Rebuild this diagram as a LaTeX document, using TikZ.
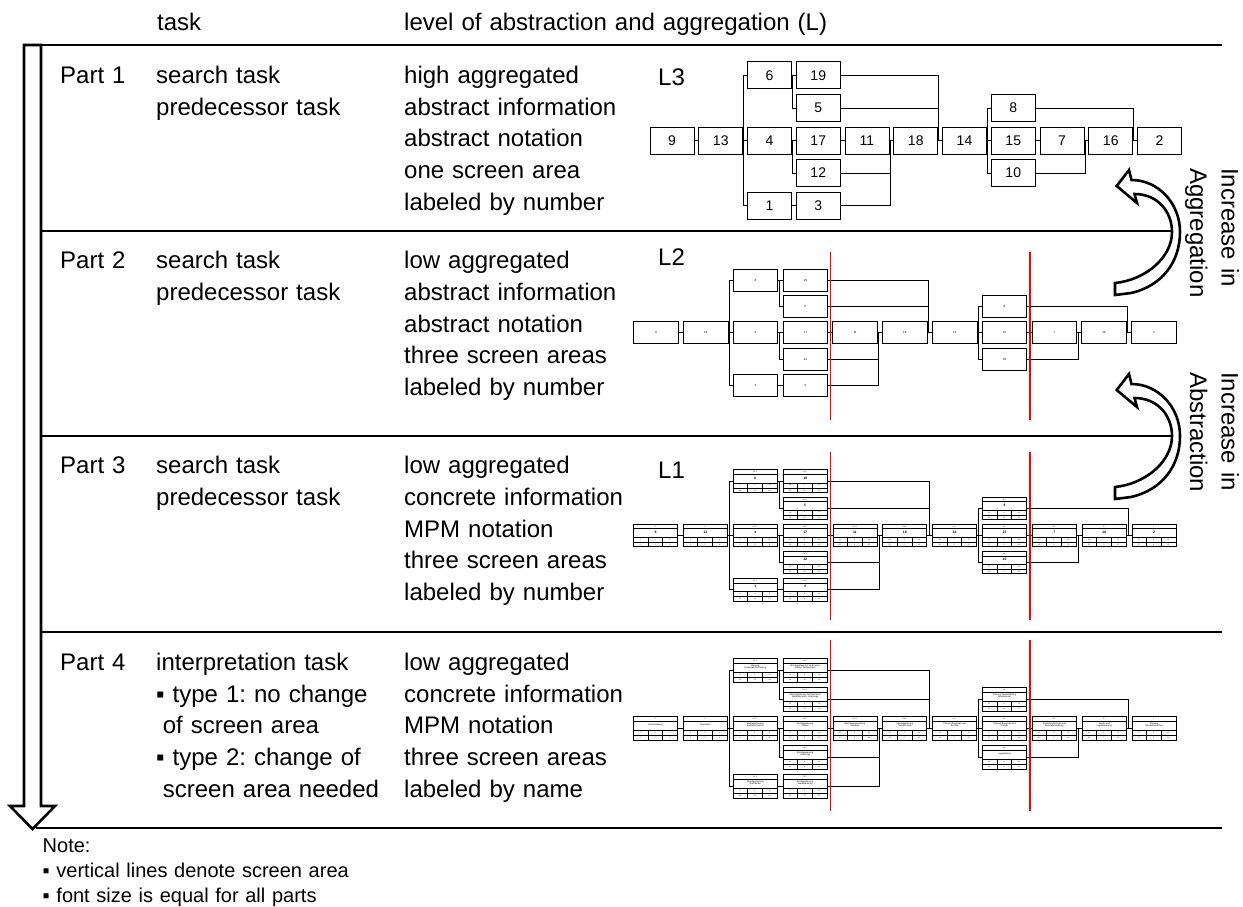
\documentclass[tikz,border=0pt]{standalone}
\usepackage{fontspec}
\setmainfont{Liberation Sans}
\usetikzlibrary{calc}
\frenchspacing

% task / column / row (row 2 is the main row)
\newcommand{\tasklist}{9/0/2, 13/1/2, 4/2/2, 6/2/0, 1/2/4, 17/3/2, 19/3/0, 5/3/1, 12/3/3, 3/3/4, 11/4/2, 18/5/2, 14/6/2, 15/7/2, 8/7/1, 10/7/3, 7/8/2, 16/9/2, 2/10/2}
\newcommand{\linklist}{9/13, 13/6, 13/4, 13/1, 6/19, 6/5, 4/17, 4/12, 1/3, 17/11, 11/18, 12/18, 3/18, 18/14, 19/14, 5/14, 14/8, 14/15, 14/10, 15/7, 7/16, 10/16, 16/2, 8/2}
\newcommand{\celldata}{9/1/0/3/3/0/0/3, 13/2/3/3/6/3/0/6, 4/3.3.1/6/5/11/6/0/11, 6/3.1.1/6/4/10/20/14/24, 1/3.2.1/6/3/9/18/12/21, 17/3.3.2/11/8/19/11/0/19, 19/3.1.2/10/6/16/24/14/30, 5/3.1.3/10/5/15/25/15/30, 12/3.3.3/11/4/15/21/10/25, 3/3.2.2/9/4/13/21/12/25, 11/3.3.4/19/6/25/19/0/25, 18/3.3.5/25/5/30/25/0/30, 14/4.1/30/7/37/30/0/37, 15/4.2/37/6/43/37/0/43, 8/4.3/37/4/41/53/16/57, 10/4.4/37/5/42/46/9/51, 7/5.1/43/8/51/43/0/51, 16/6/51/6/57/51/0/57, 2/7/57/4/61/57/0/61}
\newcommand{\namedata}{9/{Ausschreibung}, 13/{Baustraße}, 4/{Montageplanung\\Stahlkonstruktion}, 6/{Planung\\Fundamentherstellung}, 1/{Montageplanung\\Dachbinder}, 17/{Montageplanung\\Stützen}, 19/{Montageplanung Fundamente\\Aufzug, Treppenhaus}, 5/{Montageplanung Dachelemente\\Wandelemente, Unterzüge}, 12/{Montageplanung\\Unterzüge}, 3/{Montageplanung\\Wandelemente}, 11/{Montagevorbereitung\\Stahlbau}, 18/{Montageplanung\\Dachelemente}, 14/{Planung Baugrube und\\Aushub}, 15/{Planung Baugrube und\\Verbau}, 8/{Planung Wasserhaltung\\Grundwasser}, 10/{Lageplanung}, 7/{Sicherheitskonzept und\\Baustellenordnung}, 16/{Geräte und\\Logistikplanung}, 2/{Planung\\Baustellenbetrieb}}

% prefix, x of column 0, column pitch, y of main row, row pitch, box style, box text
\newcommand{\network}[7]{%
  \foreach \t/\col/\row in \tasklist
    \node[#6] (#1\t) at ({#2+\col*#3},{#4+(\row-2)*#5}) {#7};
  \foreach \a/\b in \linklist
    \draw[link] (#1\a.east) -| ([xshift=-3.3pt]#1\b.west) -- (#1\b.west);
}

% prefix, box width, box height
\newcommand{\mpmgrid}[3]{%
  \foreach \t/\hd/\es/\du/\ef/\ls/\tf/\lf in \celldata {
    \begin{scope}[shift={(#1\t.south west)}, x={(#2pt,0pt)}, y={(0pt,#3pt)}]
      \draw[celllines] (0,0.82) -- (1,0.82) (0,0.45) -- (1,0.45) (0,0.23) -- (1,0.23)
        (1/3,0) -- (1/3,0.45) (2/3,0) -- (2/3,0.45);
      \node[cell] (#1\t-hd) at (0.5,0.91) {\hd};
      \node[cell] (#1\t-es) at (1/6,0.34) {\es};
      \node[cell] (#1\t-du) at (0.5,0.34) {\du};
      \node[cell] (#1\t-ef) at (5/6,0.34) {\ef};
      \node[cell] (#1\t-ls) at (1/6,0.115) {\ls};
      \node[cell] (#1\t-tf) at (0.5,0.115) {\tf};
      \node[cell] (#1\t-lf) at (5/6,0.115) {\lf};
    \end{scope}
  }
}

\begin{document}
\begin{tikzpicture}[x=1pt, y=-1pt,
  txt/.style={anchor=base west, inner sep=0pt, text width=#1, align=left, font=\fontsize{24}{31.7}\selectfont},
  txt/.default=240pt,
  rule/.style={line width=1.1pt},
  screen/.style={red, line width=1.8pt},
  link/.style={line width=0.8pt},
  bigbox/.style={rectangle, draw, line width=1pt, minimum width=44pt, minimum height=27pt, inner sep=0pt, font=\fontsize{14}{14}\selectfont},
  smallbox/.style={rectangle, draw, line width=0.9pt, minimum width=44.6pt, minimum height=22pt, inner sep=0pt, font=\fontsize{3}{3}\selectfont},
  mpmbox/.style={rectangle, draw, line width=0.9pt, minimum width=44pt, inner sep=0pt},
  celllines/.style={line width=0.35pt},
  cell/.style={inner sep=0pt, font=\fontsize{1.8}{2}\selectfont},
  tasktitle/.style={inner sep=0pt, align=center, font=\fontsize{2.2}{2.5}\selectfont},
  hollow/.style={draw, fill=white, line width=2.6pt},
]
\useasboundingbox (0,0) rectangle (1243,907);

\draw[rule] (41,45) -- (1222,45);
\draw[rule] (41,231) -- (1179,231);
\draw[rule] (41,436) -- (1179,436);
\draw[rule] (41,632) -- (1222,632);
\draw[rule] (36,828) -- (1222,828);

\draw[hollow] (24,45) -- (24,806) -- (10,806) -- (32.5,829) -- (55,806) -- (41,806) -- (41,45) -- cycle;

\node[txt] (hd-task) at (157,30.5) {task};
\node[txt=440pt] (hd-level) at (404,30.5) {level of abstraction and aggregation (L)};

\node[txt] (part1) at (60,83.6) {Part 1};
\node[txt] (task1) at (156,83.6) {search task\\predecessor task};
\node[txt] (lev1) at (404,83.6) {high aggregated\\abstract information\\abstract notation\\one screen area\\labeled by number};

\node[txt] (part2) at (60,268.6) {Part 2};
\node[txt] (task2) at (156,268.6) {search task\\predecessor task};
\node[txt] (lev2) at (404,268.6) {low aggregated\\abstract information\\abstract notation\\three screen areas\\labeled by number};

\node[txt] (part3) at (60,473.6) {Part 3};
\node[txt] (task3) at (156,473.6) {search task\\predecessor task};
\node[txt] (lev3) at (404,473.6) {low aggregated\\concrete information\\MPM notation\\three screen areas\\labeled by number};

\node[txt] (part4) at (60,670.4) {Part 4};
\node[txt] (task4) at (156,670.4) {interpretation task\\▪ type 1: no change\\\hspace*{6.7pt}of screen area\\▪ type 2: change of\\\hspace*{6.7pt}screen area needed};
\node[txt] (lev4) at (404,670.4) {low aggregated\\concrete information\\MPM notation\\three screen areas\\labeled by name};

\node[txt] (L3) at (658,85) {L3};
\node[txt] (L2) at (658,265) {L2};
\node[txt] (L1) at (658,478) {L1};

\network{a}{672}{48.75}{140.5}{32.5}{bigbox}{\t}
\network{b}{655.9}{49.8}{332.7}{26.3}{smallbox}{\t}
\network{c}{655.6}{49.85}{535.4}{27.1}{mpmbox, minimum height=22.7pt}{}
\network{d}{655.6}{49.85}{728.3}{29}{mpmbox, minimum height=24pt}{}

\mpmgrid{c}{44}{22.7}
\mpmgrid{d}{44}{24}
\foreach \t/\col/\row in \tasklist
  \node[tasktitle, font=\fontsize{3.4}{3.4}\selectfont\bfseries] (c\t-tl) at ($(c\t.north)!0.365!(c\t.south)$) {\t};
\foreach \t/\nm in \namedata
  \node[tasktitle] (d\t-tl) at ($(d\t.north)!0.365!(d\t.south)$) {\nm};

\draw[screen] (830.4,252) -- (830.4,420) (1030,252) -- (1030,420);
\draw[screen] (830.4,452) -- (830.4,620) (1030,452) -- (1030,620);
\draw[screen] (830.4,640) -- (830.4,811) (1030,640) -- (1030,811);

\foreach \dy in {0,204}
  \draw[hollow, shift={(0,\dy)}] (1129,170) -- (1116.7,186) -- (1137,203) -- (1134.5,194)
    .. controls (1158,194) and (1172,212) .. (1172,232)
    .. controls (1172,258) and (1145,280) .. (1115,283) -- (1115,295) -- (1131,293)
    .. controls (1162,286) and (1180,262) .. (1180,232)
    .. controls (1180,203) and (1158,180) .. (1131.5,180) -- cycle;

\node[txt=150pt, rotate=-90] (agg) at (1221.7,168) {Increase in\\Aggregation};
\node[txt=150pt, rotate=-90] (abs) at (1221.7,372) {Increase in\\Abstraction};

\node[txt=400pt, font=\fontsize{20}{25}\selectfont] (note) at (42.5,852) {Note:\\▪ vertical lines denote screen area\\▪ font size is equal for all parts};
\end{tikzpicture}
\end{document}
